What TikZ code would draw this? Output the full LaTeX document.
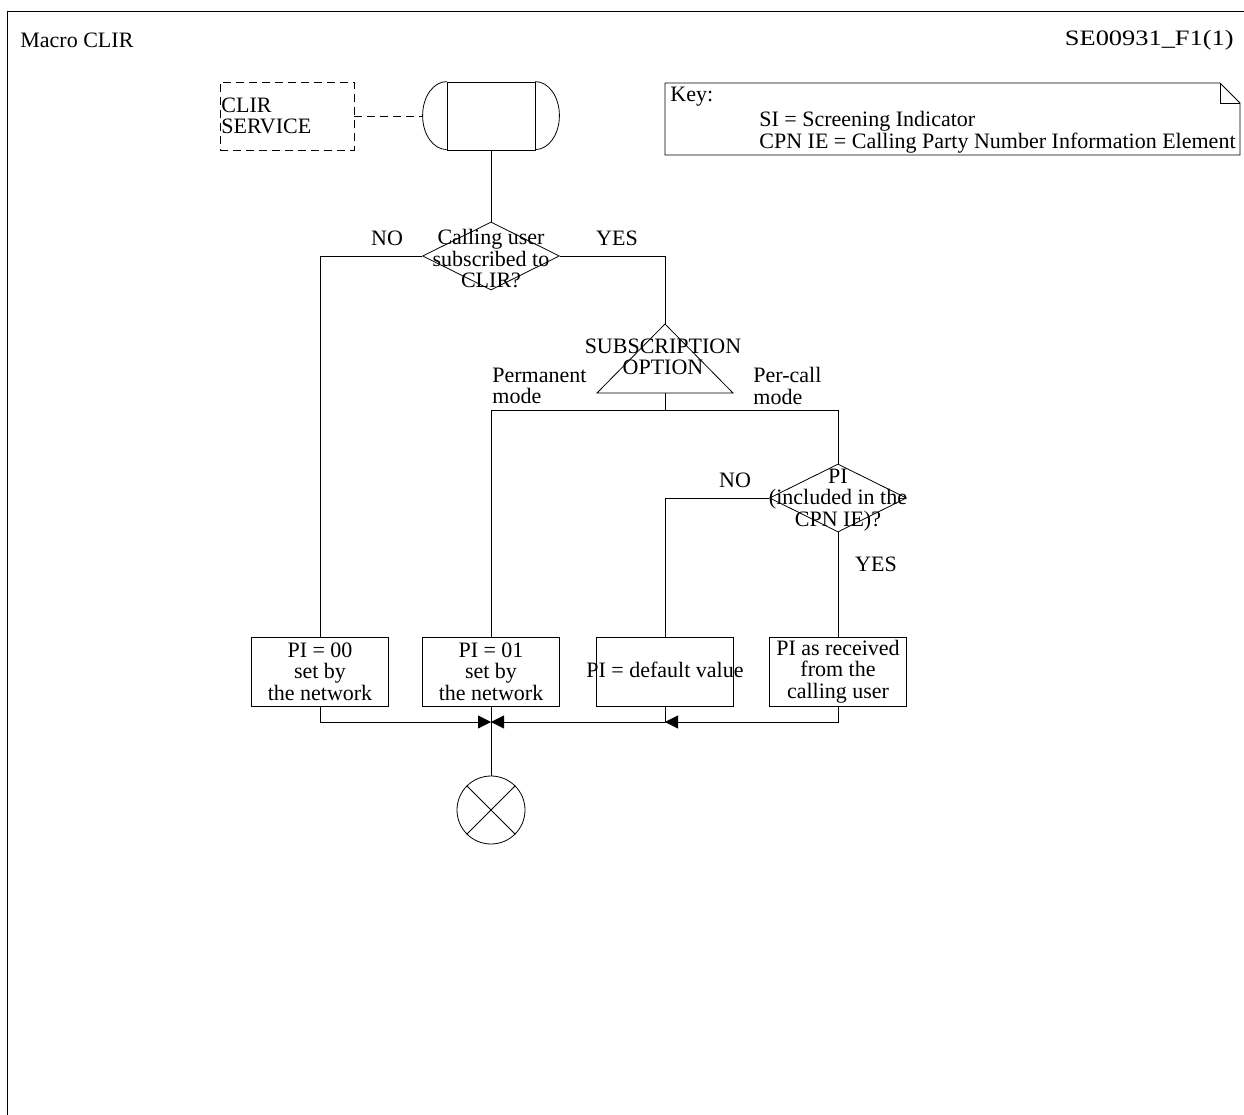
\documentclass[tikz,border=0pt]{standalone}
\usepackage{fontspec}
\setmainfont{Liberation Serif}
\usetikzlibrary{arrows.meta,shapes.geometric}
\begin{document}
\begin{tikzpicture}[x=1pt,y=-1pt,
  every node/.style={font=\fontsize{22}{21.5}\selectfont, inner sep=0pt},
  box/.style={draw, minimum width=137pt, minimum height=69pt, align=center},
  dec/.style={draw, diamond, minimum width=137pt, minimum height=68pt, inner sep=0pt},
  txt/.style={align=center},
  arr/.style={-{Triangle[length=13pt,width=13pt]}},
  dsh/.style={dash pattern=on 8pt off 5pt}
]
\useasboundingbox (0,0) rectangle (1244,1115);
\begin{scope}[line width=0.8pt]
% frame
\draw (7,1115) -- (7,11) -- (1244,11);
\node[anchor=west] (title) at (20,40) {Macro CLIR};
\node[anchor=east] (code) at (1234,40) {\scalebox{1.2}[1]{SE00931\_F1(1)}};

% key box
\draw (665,83) -- (1220,83) -- (1240,103) -- (1240,155) -- (665,155) -- cycle;
\draw (1220,83) -- (1220,103) -- (1240,103);
\node[anchor=west] (key) at (670,97) {Key:};
\node[anchor=west, align=left] (keytxt) at (759,132) {SI = Screening Indicator\\CPN IE = Calling Party Number Information Element};

% CLIR SERVICE dashed
\node[draw, dsh, minimum width=134pt, minimum height=68pt] (svc) at (287,116) {};
\node[anchor=west, align=left] (svct) at (221,116) {CLIR\\SERVICE};

% start symbol
\node[draw, minimum width=88pt, minimum height=68pt] (start) at (491,116) {};
\draw (start.north east) arc[start angle=-90, end angle=90, x radius=24, y radius=34];
\draw (start.north west) arc[start angle=270, end angle=90, x radius=24, y radius=34];
\coordinate (startW) at (423,116);
\draw[dsh] (svc.east |- startW) -- (startW);

% decision 1
\node[dec] (d1) at (491,256) {};
\node[txt] (d1t) at (491,259) {Calling user\\subscribed to\\CLIR?};
\draw (start.south) -- (d1.north);
\node (no1) at (387,238) {NO};
\node (yes1) at (617,238) {YES};

% triangle
\coordinate (tritop) at (665,324);
\coordinate (tribot) at (665,393);
\draw (tritop) -- (733,393) -- (597,393) -- cycle;
\node[txt] (trit) at (663,357) {SUBSCRIPTION\\OPTION};
\node[anchor=west, align=left] (perm) at (492,386) {Permanent\\mode};
\node[anchor=west, align=left] (percall) at (753,386) {Per-call\\mode};

% decision 2
\node[dec] (d2) at (838,498) {};
\node[txt] (d2t) at (838,500) {PI\\(included in the\\CPN IE)?};
\node (no2) at (735,480) {NO};
\node (yes2) at (876,564) {YES};

% boxes
\node[box] (b1) at (320,671.5) {PI = 00\\set by\\the network};
\node[box] (b2) at (491,671.5) {PI = 01\\set by\\the network};
\node[box] (b3) at (665,671.5) {};
\node (b3t) at (665,670) {PI = default value};
\node[box] (b4) at (838,671.5) {PI as received\\from the\\calling user};

% circle
\node[draw, circle, minimum size=68pt] (end) at (491,810) {};
\draw (end.north west) -- (end.south east);
\draw (end.north east) -- (end.south west);

% connectors
\draw (d1.west) -| (b1.north);
\draw (d1.east) -| (tritop);
\coordinate (split) at (665,410);
\draw (tribot) -- (split);
\draw (split) -| (b2.north);
\draw (split) -| (d2.north);
\draw (d2.west) -| (b3.north);
\draw (d2.south) -- (b4.north);

\coordinate (m1) at (491,722);
\coordinate (m3) at (665,722);
\draw[arr] (b1.south) |- (m1);
\draw[arr] (b3.south) |- (m1);
\draw[arr] (b4.south) |- (m3);
\draw (b2.south) -- (end.north);
\end{scope}
\end{tikzpicture}
\end{document}
